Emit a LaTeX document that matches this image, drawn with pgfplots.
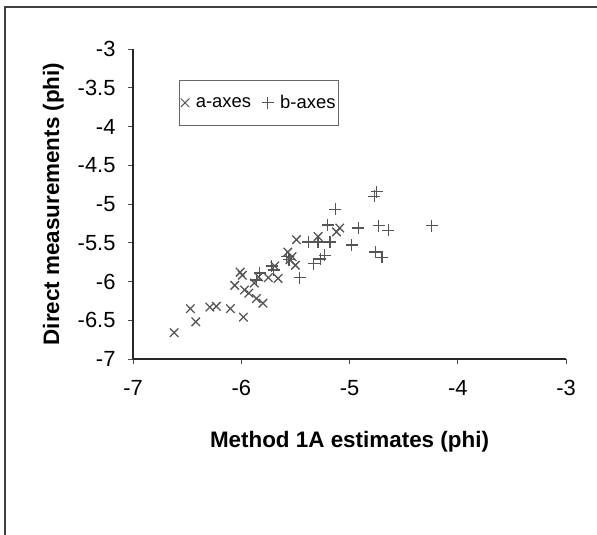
\documentclass[border=0pt]{standalone}
\usepackage{pgfplots}
\pgfplotsset{compat=1.18}
\usepackage{fontspec}
\setmainfont{Liberation Sans}
\definecolor{mk}{HTML}{555555}
\begin{document}
\begin{tikzpicture}
\begin{axis}[
  name=ax,
  at={(0,0)}, anchor=south west,
  scale only axis, width=433bp, height=310bp,
  xmin=-7, xmax=-3, ymin=-7, ymax=-3,
  xtick={-7,-6,-5,-4,-3}, ytick={-7,-6.5,-6,-5.5,-5,-4.5,-4,-3.5,-3},
  axis x line*=bottom, axis y line*=left,
  axis line style={line width=1.2bp, black!85, -},
  separate axis lines,
  tick align=outside, major tick length=5bp,
  tick style={black!70, line width=0.8bp},
  /pgf/number format/assume math mode=true,
  tick label style={font=\fontsize{22}{22}\selectfont},
  xticklabel style={yshift=-13bp},
  yticklabel style={xshift=-9bp},
  xlabel={\bfseries Method 1A estimates (phi)},
  ylabel={\bfseries Direct measurements (phi)},
  label style={font=\fontsize{22.5}{22.5}\selectfont},
  xlabel style={yshift=-28bp},
  ylabel style={yshift=7bp},
  legend columns=2,
  legend style={at={(axis cs:-6.58,-3.4)}, anchor=north west, xshift=1bp, yshift=0bp,
    draw=black!60, line width=0.8bp,
    font=\fontsize{18.5}{18.5}\selectfont, inner xsep=1bp, inner ysep=1bp,
    nodes={inner xsep=1.5bp, inner ysep=14bp},
    /tikz/every odd column/.append style={column sep=5bp},
    /tikz/every even column/.append style={column sep=9bp}},
  legend image code/.code={\draw[#1, mark size=6bp, mark options={line width=1bp}] (0.2cm,0cm) -- plot coordinates {(0.2cm,0cm)};},
]
\addplot[only marks, mark=x, mark size=6bp, mk, mark options={line width=1.3bp}] coordinates {
(-6.62,-6.66) (-6.42,-6.52) (-6.47,-6.35) (-6.29,-6.33) (-6.23,-6.32)
(-6.10,-6.35) (-5.98,-6.46) (-6.06,-6.05) (-6.01,-5.88) (-5.99,-5.92)
(-5.97,-6.11) (-5.93,-6.15) (-5.86,-6.22) (-5.80,-6.28) (-5.84,-5.94)
(-5.75,-5.95) (-5.69,-5.80) (-5.66,-5.96) (-5.57,-5.62) (-5.55,-5.72)
(-5.50,-5.79) (-5.49,-5.46) (-5.29,-5.42) (-5.09,-5.31) (-5.12,-5.36)
(-5.88,-6.02) (-5.53,-5.68)
};
\addlegendentry{a-axes}
\addplot[only marks, mark=+, mark size=6bp, mk, mark options={line width=1.3bp}] coordinates {
(-4.75,-4.84) (-4.77,-4.90) (-5.13,-5.07) (-5.20,-5.27) (-4.92,-5.31)
(-4.73,-5.28) (-4.64,-5.34) (-4.24,-5.28) (-4.98,-5.53) (-4.76,-5.62)
(-4.70,-5.69) (-5.18,-5.49) (-5.29,-5.49) (-5.38,-5.49) (-5.23,-5.66)
(-5.27,-5.71) (-5.33,-5.77) (-5.46,-5.95) (-5.58,-5.68) (-5.70,-5.85)
(-5.83,-5.89) (-5.86,-5.98) (-5.56,-5.72) (-5.72,-5.80)
};
\addlegendentry{b-axes}
\end{axis}
\pgfresetboundingbox
\useasboundingbox ([shift={(-133bp,-176bp)}]ax.south west) rectangle ([shift={(464bp,359bp)}]ax.south west);
\draw[line width=1.2bp, color=black!75] ([shift={(-128bp,-176bp)}]ax.south west) -- ([shift={(-128bp,352bp)}]ax.south west) -- ([shift={(464bp,352bp)}]ax.south west);
\end{tikzpicture}
\end{document}
